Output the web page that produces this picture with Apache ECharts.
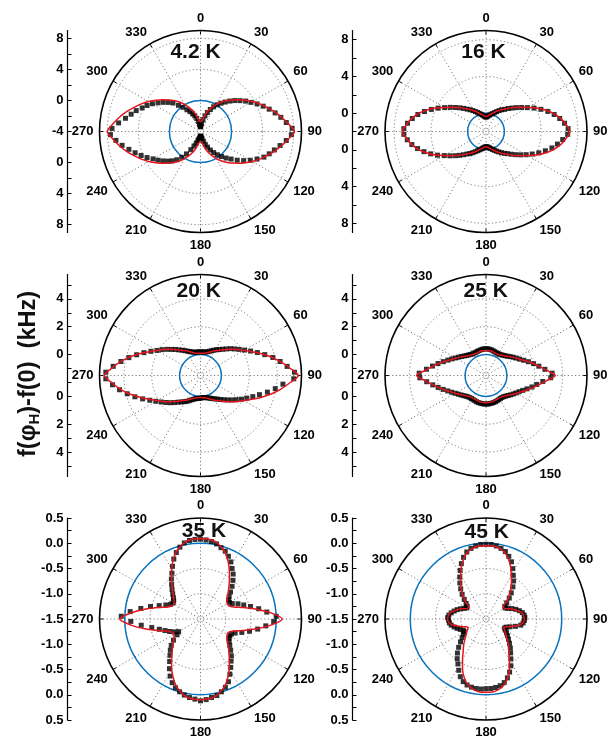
<!DOCTYPE html>
<html>
<head>
<meta charset="utf-8">
<script src="https://cdn.jsdelivr.net/npm/echarts@6/dist/echarts.min.js"></script>
<style>html,body{margin:0;padding:0;background:#fff}#c{width:610px;height:738px}</style>
</head>
<body>
<div id="c"></div>
<script>
// ---------------- data ----------------
const panelTitles = ['4.2 K', '16 K', '20 K', '25 K', '35 K', '45 K'];
const yTitleMain = 'f(\u03C6';
const yTitleSub = 'H';
const yTitleEnd = ')-f(0)  (kHz)';

const radialMin = [-4, -2, -1.5, -1.5, -1.5, -1.5];
const radialMax = [9, 9, 5.75, 5.75, 0.5, 0.5];
const radialLabelValues = [[-4, 0, 4, 8], [0, 4, 8], [0, 2, 4], [0, 2, 4], [-1.5, -1, -0.5, 0, 0.5], [-1.5, -1, -0.5, 0, 0.5]];
const radialTickValues = [
  [-4, -2, 0, 2, 4, 6, 8],
  [-2, 0, 2, 4, 6, 8],
  [-1, 0, 1, 2, 3, 4, 5],
  [-1, 0, 1, 2, 3, 4, 5],
  [-1.5, -1.25, -1, -0.75, -0.5, -0.25, 0, 0.25, 0.5],
  [-1.5, -1.25, -1, -0.75, -0.5, -0.25, 0, 0.25, 0.5]
];
const labelDecimals = [0, 0, 0, 0, 1, 1];
const gridCircleValues = [[0, 4, 8], [0, 4, 8], [0, 2, 4], [0, 2, 4], [-1, -0.5, 0], [-1, -0.5, 0]];
const zeroCircleValue = [0];
const angleInterval = 30;

const FIT_STEP = 5;   // degrees between fit values
const MARK_STEP = 4;  // degrees between measured values

// 4.2 K
const fit42 = [-2.75,-2.65,-2.4,-1.8,-1.2,-0.6,0.0,0.6,1.15,1.75,2.35,3.0,3.7,4.4,5.1,5.85,6.6,7.35,8.1,
  7.35,6.6,5.85,5.1,4.4,3.7,3.0,2.35,1.75,1.15,0.6,0.0,-0.6,-1.2,-1.8,-2.4,-2.65,
  -2.75,
  -2.65,-2.4,-1.8,-1.2,-0.6,0.0,0.6,1.15,1.75,2.35,3.0,3.7,4.4,5.1,5.85,6.6,7.3,
  8.0,
  7.3,6.6,5.85,5.1,4.4,3.7,3.0,2.35,1.75,1.15,0.6,0.0,-0.6,-1.2,-1.8,-2.4,-2.65];
const mark42 = [-3.4,-3.3,-2.95,-2.45,-1.9,-1.4,-0.9,-0.4,0.05,0.5,0.95,1.45,1.95,2.45,3.0,3.5,4.1,4.7,5.3,5.9,6.5,7.1,7.8,
  7.7,7.1,6.4,5.8,5.3,4.8,4.1,3.4,2.7,2.0,1.3,0.75,0.2,-0.3,-0.8,-1.3,-1.8,-2.25,-2.7,-3.05,-3.3,-3.4,
  -3.4,
  -3.3,-3.15,-3.0,-2.8,-2.4,-1.95,-1.35,-0.6,0.1,0.75,1.25,1.7,2.15,2.6,3.05,3.65,4.25,4.85,5.5,6.25,6.95,7.6,
  7.4,6.6,5.8,5.2,4.7,4.1,3.65,3.15,2.6,2.1,1.6,1.1,0.4,-0.15,-0.7,-1.1,-1.5,-1.85,-2.25,-2.7,-3.1,-3.3];

// 16 K
const fit16 = [-0.38,-0.32,-0.18,-0.05,0.12,0.35,0.6,0.9,1.2,1.6,2.05,2.6,3.25,4.05,4.85,5.6,6.25,6.75,7.15,
  6.75,6.25,5.6,4.85,4.05,3.25,2.6,2.05,1.6,1.2,0.9,0.6,0.35,0.12,-0.05,-0.2,-0.3,
  -0.32,
  -0.3,-0.2,-0.05,0.12,0.35,0.6,0.9,1.2,1.6,2.05,2.6,3.25,4.05,4.85,5.6,6.2,6.7,
  7.1,
  6.7,6.2,5.6,4.85,4.05,3.25,2.6,2.05,1.6,1.2,0.9,0.6,0.35,0.12,-0.05,-0.18,-0.32];
const mark16 = [-0.45,-0.38,-0.28,-0.18,-0.05,0.08,0.25,0.45,0.68,0.92,1.15,1.48,1.82,2.22,2.68,3.2,3.82,4.45,5.08,5.65,6.15,6.6,6.95,
  6.9,6.4,5.9,5.4,4.8,4.2,3.6,3.05,2.55,2.1,1.7,1.35,1.1,0.85,0.62,0.42,0.24,0.08,-0.06,-0.18,-0.27,-0.33,
  -0.35,
  -0.3,-0.22,-0.12,0.0,0.14,0.3,0.5,0.72,0.96,1.2,1.52,1.88,2.28,2.74,3.25,3.88,4.5,5.1,5.68,6.2,6.62,6.95,
  6.95,6.6,6.15,5.65,5.05,4.42,3.8,3.2,2.7,2.25,1.85,1.5,1.18,0.92,0.68,0.46,0.27,0.1,-0.05,-0.17,-0.28,-0.38];

// 20 K
const fit20 = [0.1,0.1,0.12,0.18,0.28,0.4,0.55,0.7,0.9,1.15,1.42,1.75,2.1,2.55,3.1,3.7,4.3,4.9,5.52,
  4.9,4.3,3.7,3.1,2.55,2.1,1.75,1.42,1.15,0.9,0.7,0.55,0.4,0.28,0.18,0.12,0.1,
  0.08,
  0.1,0.12,0.18,0.28,0.4,0.55,0.7,0.9,1.15,1.42,1.75,2.1,2.55,3.1,3.7,4.3,4.85,
  5.4,
  4.85,4.3,3.7,3.1,2.55,2.1,1.75,1.42,1.15,0.9,0.7,0.55,0.4,0.28,0.18,0.12,0.1];
const mark20 = [0.2,0.2,0.2,0.22,0.27,0.35,0.45,0.56,0.68,0.8,0.96,1.15,1.38,1.6,1.85,2.15,2.5,2.9,3.35,3.85,4.3,4.75,5.25,
  5.2,4.45,3.95,3.45,2.95,2.55,2.2,1.9,1.6,1.35,1.12,0.92,0.75,0.6,0.48,0.38,0.29,0.22,0.16,0.12,0.1,0.1,
  0.12,
  0.15,0.17,0.2,0.27,0.36,0.48,0.6,0.72,0.85,1.0,1.2,1.42,1.65,1.9,2.2,2.55,2.98,3.45,3.92,4.4,4.85,5.3,
  5.3,4.8,4.3,3.8,3.32,2.88,2.46,2.1,1.82,1.55,1.3,1.1,0.9,0.74,0.6,0.48,0.38,0.3,0.24,0.2,0.2,0.2];

// 25 K
const fit25 = [0.3,0.3,0.3,0.28,0.25,0.24,0.25,0.3,0.38,0.48,0.62,0.8,1.0,1.22,1.55,1.95,2.35,2.85,3.47,
  2.85,2.35,1.95,1.6,1.28,1.05,0.85,0.68,0.55,0.45,0.4,0.38,0.38,0.4,0.42,0.44,0.45,
  0.45,
  0.45,0.44,0.42,0.4,0.38,0.38,0.4,0.45,0.55,0.68,0.85,1.05,1.28,1.6,1.95,2.35,2.85,
  3.48,
  2.85,2.35,1.95,1.55,1.22,1.0,0.8,0.62,0.48,0.38,0.3,0.25,0.24,0.25,0.28,0.3,0.3];
const mark25 = [0.42,0.42,0.4,0.38,0.35,0.32,0.3,0.3,0.3,0.34,0.4,0.47,0.57,0.7,0.85,1.0,1.18,1.42,1.7,2.02,2.35,2.75,3.25,
  3.15,2.6,2.2,1.9,1.6,1.35,1.15,1.0,0.87,0.75,0.64,0.55,0.48,0.45,0.45,0.46,0.48,0.5,0.52,0.53,0.54,0.55,
  0.55,
  0.55,0.54,0.53,0.52,0.5,0.48,0.46,0.46,0.47,0.5,0.57,0.66,0.77,0.9,1.05,1.24,1.46,1.73,2.04,2.38,2.78,3.25,
  3.3,2.8,2.4,2.05,1.72,1.45,1.22,1.02,0.86,0.72,0.6,0.5,0.43,0.37,0.33,0.32,0.32,0.34,0.36,0.38,0.4,0.42];

// 35 K
const fit35 = [0.095,0.09,0.07,0.0,-0.09,-0.22,-0.36,-0.5,-0.62,-0.72,-0.8,-0.86,-0.89,-0.88,-0.8,-0.62,-0.38,-0.1,0.12,
  -0.1,-0.38,-0.62,-0.8,-0.88,-0.89,-0.86,-0.8,-0.72,-0.62,-0.5,-0.36,-0.22,-0.09,0.0,0.07,0.09,
  0.1,
  0.09,0.07,0.0,-0.09,-0.22,-0.36,-0.5,-0.62,-0.72,-0.8,-0.86,-0.89,-0.88,-0.8,-0.62,-0.38,-0.12,
  0.1,
  -0.12,-0.38,-0.62,-0.8,-0.88,-0.89,-0.86,-0.8,-0.72,-0.62,-0.5,-0.36,-0.22,-0.09,0.0,0.07,0.09];
const mark35 = [0.08,0.07,0.05,0.02,-0.03,-0.07,-0.14,-0.22,-0.32,-0.4,-0.5,-0.6,-0.7,-0.78,-0.83,-0.84,-0.8,-0.7,-0.6,-0.48,-0.33,-0.18,0.0,
  -0.05,-0.2,-0.35,-0.5,-0.64,-0.76,-0.82,-0.83,-0.82,-0.78,-0.72,-0.64,-0.55,-0.47,-0.37,-0.26,-0.14,-0.06,0.0,0.05,0.07,0.1,
  0.12,
  0.09,0.07,0.04,0.0,-0.05,-0.12,-0.22,-0.34,-0.46,-0.56,-0.64,-0.72,-0.82,-0.94,-1.0,-0.92,-0.84,-0.76,-0.66,-0.52,-0.32,-0.12,
  0.07,-0.1,-0.3,-0.48,-0.64,-0.76,-0.84,-0.87,-0.86,-0.82,-0.76,-0.69,-0.61,-0.52,-0.43,-0.32,-0.2,-0.1,-0.02,0.04,0.07,0.08];

// 45 K
const fit45 = [-0.05,-0.05,-0.07,-0.12,-0.22,-0.35,-0.5,-0.62,-0.74,-0.86,-0.98,-1.08,-1.08,-1.02,-0.93,-0.86,-0.78,-0.75,-0.74,
  -0.76,-0.82,-0.95,-1.05,-1.11,-1.08,-1.03,-0.98,-0.9,-0.81,-0.71,-0.57,-0.4,-0.25,-0.14,-0.08,-0.05,
  -0.05,
  -0.05,-0.08,-0.14,-0.25,-0.4,-0.57,-0.71,-0.81,-0.9,-0.98,-1.03,-1.08,-1.11,-1.05,-0.95,-0.82,-0.76,
  -0.74,
  -0.75,-0.78,-0.86,-0.93,-1.02,-1.08,-1.08,-0.98,-0.86,-0.74,-0.62,-0.5,-0.35,-0.22,-0.12,-0.07,-0.05];
const mark45 = [-0.02,-0.02,-0.04,-0.07,-0.11,-0.18,-0.26,-0.37,-0.48,-0.57,-0.67,-0.78,-0.88,-0.98,-1.05,-1.06,-1.02,-0.95,-0.88,-0.82,-0.77,-0.74,-0.73,
  -0.74,-0.76,-0.8,-0.9,-1.0,-1.07,-1.09,-1.06,-1.01,-0.96,-0.9,-0.83,-0.75,-0.67,-0.57,-0.45,-0.35,-0.26,-0.19,-0.15,-0.13,-0.12,
  -0.12,
  -0.11,-0.11,-0.12,-0.14,-0.18,-0.25,-0.35,-0.45,-0.53,-0.62,-0.72,-0.82,-0.9,-0.96,-1.0,-1.0,-0.95,-0.9,-0.85,-0.8,-0.77,-0.76,
  -0.74,-0.76,-0.8,-0.85,-0.9,-0.96,-1.02,-1.06,-1.05,-1.0,-0.92,-0.82,-0.72,-0.62,-0.52,-0.41,-0.3,-0.2,-0.12,-0.07,-0.04,-0.02];

const fitSeries = [fit42, fit16, fit20, fit25, fit35, fit45];
const markSeries = [mark42, mark16, mark20, mark25, mark35, mark45];

// ---------------- layout / style ----------------
const FONT = "'Liberation Sans', Arial, Helvetica, sans-serif";
const R = 101;
const centers = [[200.5, 131.5], [486, 131.5], [200.5, 375.5], [486, 375.5], [200.5, 619], [486, 619]];
const axisX = [67.5, 352.5, 67.5, 352.5, 67.5, 352.5];
const titlePos = [[195.5, 52], [483.5, 52], [198.7, 291], [485.8, 291], [204, 531], [486.7, 532]];
const RED = '#e3151f', BLUE = '#0a74c0', GRID = '#7a7a7a';

const polar = [], angleAxis = [], radiusAxis = [], series = [];
const grid = [], xAxis = [], yAxis = [], graphic = [];

for (let i = 0; i < 6; i++) {
  const mn = radialMin[i], mx = radialMax[i], span = mx - mn;
  polar.push({ center: centers[i], radius: R });
  polar.push({ center: centers[i], radius: R });
  angleAxis.push({
    polarIndex: 2 * i, type: 'value', min: 0, max: 360, interval: angleInterval,
    startAngle: 90, clockwise: true, z: 1,
    axisLine: { lineStyle: { color: '#000', width: 1.6 } },
    axisTick: { show: true, inside: true, length: 4, lineStyle: { color: '#000', width: 1 } },
    axisLabel: { margin: 6, color: '#000', fontFamily: FONT, fontWeight: 'bold', fontSize: 13,
      formatter: v => (v >= 360 ? '' : String(v)) },
    splitLine: { show: true, lineStyle: { color: GRID, width: 1, type: [1.2, 2.4] } }
  });
  radiusAxis.push({
    polarIndex: 2 * i, type: 'value', min: mn, max: mx, z: 1,
    axisLine: { show: false }, axisLabel: { show: false },
    axisTick: { show: false, customValues: gridCircleValues[i] },
    splitLine: { show: true, lineStyle: { color: GRID, width: 1, type: [1.2, 2.4] } }
  });
  angleAxis.push({ polarIndex: 2 * i + 1, type: 'value', min: 0, max: 360, startAngle: 90, show: false });
  radiusAxis.push({
    polarIndex: 2 * i + 1, type: 'value', min: mn, max: mx, z: 2,
    axisLine: { show: false }, axisLabel: { show: false },
    axisTick: { show: false, customValues: zeroCircleValue },
    splitLine: { show: true, lineStyle: { color: BLUE, width: 1.5, type: 'solid' } }
  });

  const marks = markSeries[i].map((v, k) => [v, k * MARK_STEP]);
  const fit = fitSeries[i].map((v, k) => [v, k * FIT_STEP]);
  fit.push([fitSeries[i][0], 360]);
  series.push({
    type: 'scatter', coordinateSystem: 'polar', polarIndex: 2 * i, data: marks,
    symbol: 'rect', symbolSize: 5, itemStyle: { color: '#000' }, z: 3, silent: true
  });
  series.push({
    type: 'line', coordinateSystem: 'polar', polarIndex: 2 * i, data: fit,
    showSymbol: false, smooth: 0.3, lineStyle: { color: RED, width: 1.5 }, z: 4, silent: true
  });

  const off = vals => {
    const out = [];
    vals.forEach(v => { const d = +(v - mn).toFixed(4); if (d === 0) out.push(0); else { out.push(d); out.push(-d); } });
    return out;
  };
  grid.push({ left: axisX[i], top: centers[i][1] - R, width: 20, height: 2 * R });
  xAxis.push({ gridIndex: i, type: 'value', show: false });
  const dec = labelDecimals[i];
  yAxis.push({
    gridIndex: i, type: 'value', min: -span, max: span, position: 'left',
    axisLine: { show: true, lineStyle: { color: '#000', width: 1.2 } },
    axisTick: { show: true, inside: true, length: 4, customValues: off(radialTickValues[i]), lineStyle: { color: '#000' } },
    axisLabel: { show: true, customValues: off(radialLabelValues[i]), margin: 4, color: '#000',
      fontFamily: FONT, fontWeight: 'bold', fontSize: 13,
      formatter: v => { const val = mn + Math.abs(v); const s = val.toFixed(dec); return s === '-0' || s === '-0.0' ? s.slice(1) : s; } },
    splitLine: { show: false }
  });

  graphic.push({
    type: 'text', x: titlePos[i][0], y: titlePos[i][1], z: 100,
    style: { text: panelTitles[i], fill: '#111', font: "bold 21px " + FONT, textAlign: 'center', textVerticalAlign: 'middle' }
  });
}

graphic.push({
  type: 'text', x: 29, y: 374, rotation: Math.PI / 2, z: 100,
  style: {
    text: '{a|' + yTitleMain + '}{s|' + yTitleSub + '}{a|' + yTitleEnd + '}',
    textAlign: 'center', textVerticalAlign: 'middle', fill: '#111',
    rich: {
      a: { fontFamily: FONT, fontWeight: 'bold', fontSize: 23.5, lineHeight: 30, verticalAlign: 'middle', fill: '#111' },
      s: { fontFamily: FONT, fontWeight: 'bold', fontSize: 15, lineHeight: 15, verticalAlign: 'bottom', padding: [0, 0, 2, 0], fill: '#111' }
    }
  }
});

const chart = echarts.init(document.getElementById('c'), null, { renderer: 'canvas' });
chart.setOption({
  backgroundColor: '#fff', animation: false,
  polar, angleAxis, radiusAxis, grid, xAxis, yAxis, series, graphic
});
</script>
</body>
</html>
